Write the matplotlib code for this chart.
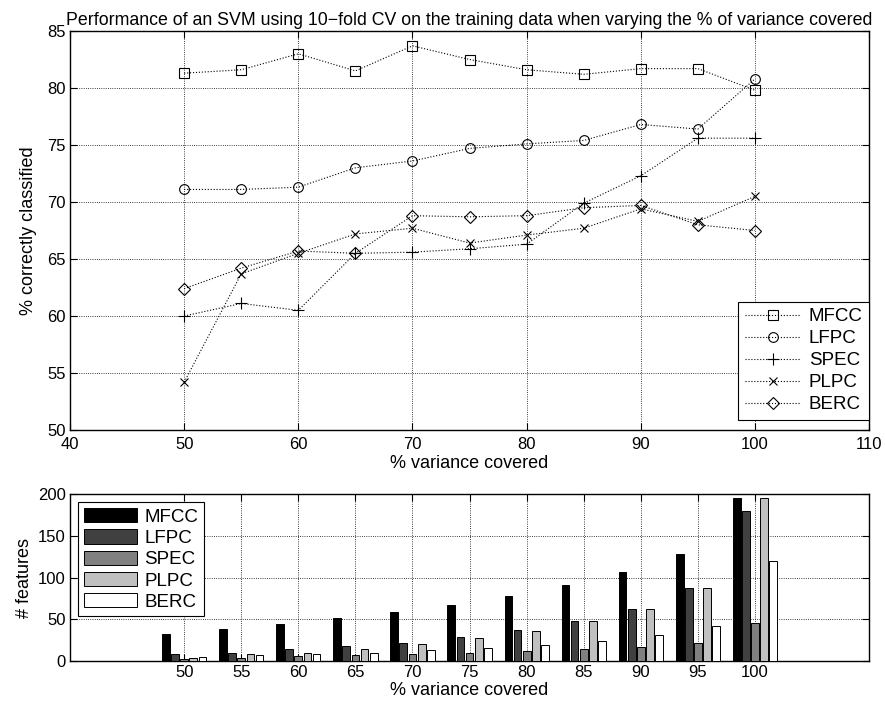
import numpy as np
import matplotlib.pyplot as plt

plt.rcParams["font.family"] = ["Liberation Sans", "DejaVu Sans"]
plt.rcParams["font.size"] = 13

variance = [50, 55, 60, 65, 70, 75, 80, 85, 90, 95, 100]
feature_names = ["MFCC", "LFPC", "SPEC", "PLPC", "BERC"]

# % correctly classified (top plot)
acc_mfcc = [81.3, 81.6, 83.0, 81.5, 83.7, 82.5, 81.6, 81.2, 81.7, 81.7, 79.8]
acc_lfpc = [71.1, 71.1, 71.3, 73.0, 73.6, 74.7, 75.1, 75.4, 76.8, 76.4, 80.8]
acc_spec = [60.0, 61.1, 60.5, 65.5, 65.6, 65.9, 66.3, 69.9, 72.3, 75.6, 75.6]
acc_plpc = [54.2, 63.7, 65.5, 67.2, 67.7, 66.4, 67.1, 67.7, 69.4, 68.3, 70.5]
acc_berc = [62.4, 64.2, 65.7, 65.5, 68.8, 68.7, 68.8, 69.5, 69.7, 68.0, 67.5]

# number of features (bottom plot)
nf_mfcc = [32, 38, 44, 51, 59, 67, 78, 91, 107, 128, 195]
nf_lfpc = [9, 10, 14, 18, 22, 29, 37, 48, 62, 87, 180]
nf_spec = [3, 4, 6, 7, 8, 10, 12, 14, 17, 22, 45]
nf_plpc = [4, 8, 10, 14, 20, 28, 36, 48, 62, 87, 195]
nf_berc = [5, 7, 9, 10, 13, 15, 19, 24, 31, 42, 120]

fig = plt.figure(figsize=(8.85, 7.11), dpi=100)
ax1 = fig.add_axes([0.0791, 0.3952, 0.903, 0.5612])
ax2 = fig.add_axes([0.0791, 0.0703, 0.903, 0.2349])

markers = ["s", "o", "+", "x", "D"]
sizes = [6.5, 7, 8, 5.5, 6]
for vals, name, m, ms in zip([acc_mfcc, acc_lfpc, acc_spec, acc_plpc, acc_berc],
                             feature_names, markers, sizes):
    ax1.plot(variance, vals, linestyle=":", linewidth=0.8, color="black",
             marker=m, markersize=ms, markerfacecolor="none",
             markeredgecolor="black", markeredgewidth=0.8, label=name)

ax1.set_xlim(40, 110)
ax1.set_ylim(50, 85)
ax1.set_xticks(np.arange(40, 111, 10))
ax1.set_yticks(np.arange(50, 86, 5))
ax1.grid(True, linestyle=":", color="black", linewidth=0.6)
ax1.set_xlabel("% variance covered", labelpad=2)
ax1.set_ylabel("% correctly classified")
ax1.yaxis.set_label_coords(-0.041, 0.5)
ax1.set_title("Performance of an SVM using 10\u2212fold CV on the training data "
              "when varying the % of variance covered", fontsize=12.8, pad=4)
leg1 = ax1.legend(loc="lower right", bbox_to_anchor=(1.0, 0.025),
                  fancybox=False, edgecolor="black", framealpha=1,
                  handlelength=3.0, handletextpad=0.4, borderaxespad=0,
                  fontsize=13.5, labelspacing=0.26, borderpad=0.35)
leg1.get_frame().set_linewidth(0.8)

colors = ["black", "#404040", "#808080", "#c0c0c0", "white"]
offsets = [-1.6, -0.8, 0.0, 0.8, 1.6]
x = np.array(variance)
for vals, name, c, off in zip([nf_mfcc, nf_lfpc, nf_spec, nf_plpc, nf_berc],
                              feature_names, colors, offsets):
    ax2.bar(x + off, vals, width=0.68, color=c, edgecolor="black",
            linewidth=0.7, label=name, zorder=3)

ax2.set_xlim(40, 110)
ax2.set_ylim(0, 200)
ax2.set_xticks(variance)
ax2.set_yticks(np.arange(0, 201, 50))
ax2.grid(True, linestyle=":", color="black", linewidth=0.6)
ax2.set_axisbelow(True)
ax2.set_xlabel("% variance covered", labelpad=1)
ax2.set_ylabel("# features")
ax2.yaxis.set_label_coords(-0.046, 0.5)
leg2 = ax2.legend(loc="upper left", fancybox=False, edgecolor="black",
                  framealpha=1, handlelength=2.8, handleheight=0.8,
                  handletextpad=0.4, borderaxespad=0.45, fontsize=13.5,
                  labelspacing=0.19, borderpad=0.3)
leg2.get_frame().set_linewidth(0.8)

for ax in (ax1, ax2):
    ax.tick_params(direction="in", top=True, right=True, length=5, width=0.8,
                   labelsize=12, pad=3)
    for s in ax.spines.values():
        s.set_linewidth(1.0)
ax1.tick_params(axis="x", pad=5)

fig.savefig("out.png", dpi=100)
